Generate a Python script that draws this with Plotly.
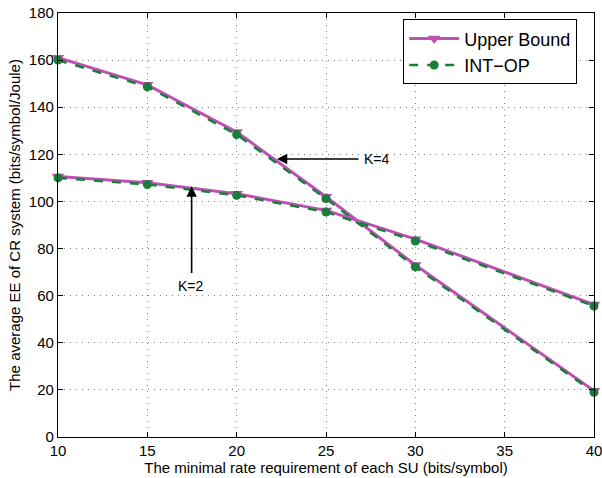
import plotly.graph_objects as go

x_vals = [10, 15, 20, 25, 30, 40]
upper_k4 = [161.0, 149.5, 129.5, 102.0, 73.0, 19.6]
intop_k4 = [160.0, 148.7, 128.4, 101.2, 72.2, 19.0]
upper_k2 = [110.6, 107.9, 103.3, 96.2, 84.0, 56.2]
intop_k2 = [110.0, 107.2, 102.6, 95.5, 83.2, 55.6]

x_ticks = [10, 15, 20, 25, 30, 35, 40]
y_ticks = [0, 20, 40, 60, 80, 100, 120, 140, 160, 180]

MAG = "rgb(190,80,180)"
GRN = "rgb(25,125,60)"
FONT = "Liberation Sans, Arial, sans-serif"

fig = go.Figure()

def add_pair(ub, op, show):
    fig.add_trace(go.Scatter(
        x=x_vals, y=ub, mode="lines+markers", name="Upper Bound",
        line=dict(color=MAG, width=3),
        marker=dict(symbol="triangle-down", size=11, color=MAG),
        showlegend=show, legendrank=1, cliponaxis=False))
    fig.add_trace(go.Scatter(
        x=x_vals, y=op, mode="lines+markers", name="INT\u2212OP",
        line=dict(color=GRN, width=2.5, dash="dash"),
        marker=dict(symbol="circle", size=9, color=GRN),
        showlegend=show, legendrank=2, cliponaxis=False))

add_pair(upper_k4, intop_k4, True)
add_pair(upper_k2, intop_k2, False)

# K=4 annotation
fig.add_annotation(x=22.25, y=118, ax=26.9, ay=118, xref="x", yref="y",
                   axref="x", ayref="y", text="", showarrow=True,
                   arrowhead=2, arrowsize=1.3, arrowwidth=1.6, arrowcolor="black")
fig.add_annotation(x=27.85, y=118, text="K=4", showarrow=False,
                   font=dict(family=FONT, size=14, color="black"))
# K=2 annotation
fig.add_annotation(x=17.48, y=106.4, ax=17.48, ay=69, xref="x", yref="y",
                   axref="x", ayref="y", text="", showarrow=True,
                   arrowhead=2, arrowsize=1.3, arrowwidth=1.6, arrowcolor="black")
fig.add_annotation(x=17.45, y=64.3, text="K=2", showarrow=False,
                   font=dict(family=FONT, size=14, color="black"))

axis_common = dict(
    showline=True, linecolor="black", linewidth=1.2, mirror="ticks",
    ticks="inside", ticklen=5, tickcolor="black", automargin=False,
    showgrid=True, gridcolor="rgb(130,130,130)", griddash="1px,5px", gridwidth=1,
    zeroline=False, tickfont=dict(family=FONT, size=15, color="black"),
    ticklabeloverflow="allow",
)

fig.update_layout(
    width=602, height=478,
    margin=dict(l=58, r=8, t=13, b=41),
    plot_bgcolor="white", paper_bgcolor="white",
    font=dict(family=FONT, color="black"),
    xaxis=dict(range=[10, 40], tickvals=x_ticks, ticklabelstandoff=0,
               title=dict(text="The minimal rate requirement of each SU (bits/symbol)",
                          font=dict(family=FONT, size=15), standoff=1),
               **axis_common),
    yaxis=dict(range=[0, 180], tickvals=y_ticks, ticklabelstandoff=0,
               title=dict(text="The average EE of CR system (bits/symbol/Joule)",
                          font=dict(family=FONT, size=15), standoff=4),
               **axis_common),
    legend=dict(x=0.644, y=0.985, xanchor="left", yanchor="top",
                bordercolor="black", borderwidth=1, bgcolor="white",
                font=dict(family=FONT, size=18), itemwidth=50,
                tracegroupgap=0),
)

fig.write_html("out.html", config={"displayModeBar": False},
               post_script="document.body.style.margin='0';document.body.style.overflow='hidden';")
